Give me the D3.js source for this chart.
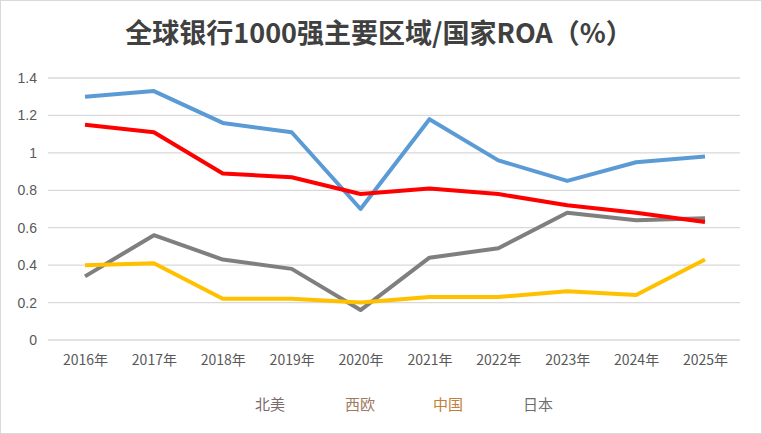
<!DOCTYPE html>
<html><head><meta charset="utf-8">
<script src="https://cdn.jsdelivr.net/npm/d3@7"></script>
<style>body{margin:0;background:#fff}</style>
</head><body><div id="chart"></div>
<script>
// data
const years = ["2016年","2017年","2018年","2019年","2020年","2021年","2022年","2023年","2024年","2025年"];
const northAmerica = [1.30,1.33,1.16,1.11,0.70,1.18,0.96,0.85,0.95,0.98];
const westEurope = [0.34,0.56,0.43,0.38,0.16,0.44,0.49,0.68,0.64,0.65];
const china = [1.15,1.11,0.89,0.87,0.78,0.81,0.78,0.72,0.68,0.63];
const japan = [0.40,0.41,0.22,0.22,0.20,0.23,0.23,0.26,0.24,0.43];
const yTicks = [0,0.2,0.4,0.6,0.8,1,1.2,1.4];

const series = [
  {name:"北美", values:northAmerica, color:"#5b9bd5", text:"#7a6a6a"},
  {name:"西欧", values:westEurope, color:"#7f7f7f", text:"#a07a60"},
  {name:"中国", values:china, color:"#ff0000", text:"#c0803a"},
  {name:"日本", values:japan, color:"#ffc000", text:"#6f6f6f"}
];

const W = 762, H = 434;
const svg = d3.select("#chart").append("svg").attr("width", W).attr("height", H);
svg.append("rect").attr("x",0.5).attr("y",0.5).attr("width",W-1).attr("height",H-1)
  .attr("fill","#fff").attr("stroke","#d9d9d9");

svg.append("text").attr("x", 379).attr("y", 43).attr("text-anchor","middle")
  .style("font-family","'Noto Sans CJK SC', sans-serif").style("font-size","27px").style("font-weight","bold")
  .attr("fill","#404040").text("全球银行1000强主要区域/国家ROA（%）");

const x = d3.scalePoint().domain(years).range([85, 705]);
const y = d3.scaleLinear().domain([0, 1.4]).range([340, 78]);

const grid = svg.append("g");
grid.selectAll("line").data(yTicks).join("line")
  .attr("x1", 48).attr("x2", 740)
  .attr("y1", d => y(d)).attr("y2", d => y(d))
  .attr("stroke", "#d9d9d9").attr("stroke-width", 1.3);

const yAxis = svg.append("g").attr("transform","translate(40,0)")
  .call(d3.axisLeft(y).tickValues(yTicks).tickSize(0).tickFormat(d3.format("~g")));
yAxis.select(".domain").remove();
yAxis.selectAll("text").attr("fill","#595959").style("font-size","14px")
  .style("font-family","'Liberation Sans', sans-serif");

const xAxis = svg.append("g").attr("transform","translate(0,352)")
  .call(d3.axisBottom(x).tickSize(0));
xAxis.select(".domain").remove();
xAxis.selectAll("text").attr("fill","#595959").style("font-size","14px")
  .style("font-family","'Noto Sans CJK SC', sans-serif");

const line = d3.line().x((d,i) => x(years[i])).y(d => y(d));
svg.selectAll(".series").data(series).join("path")
  .attr("fill","none").attr("stroke", d => d.color).attr("stroke-width", 4)
  .attr("stroke-linejoin","round").attr("d", d => line(d.values));

const legX = [270, 360, 448, 538];
svg.selectAll(".leg").data(series).join("text")
  .attr("x", (d,i) => legX[i]).attr("y", 410).attr("text-anchor","middle")
  .style("font-family","'Noto Sans CJK SC', serif").style("font-size","15px")
  .attr("fill", d => d.text).text(d => d.name);
</script></body></html>
